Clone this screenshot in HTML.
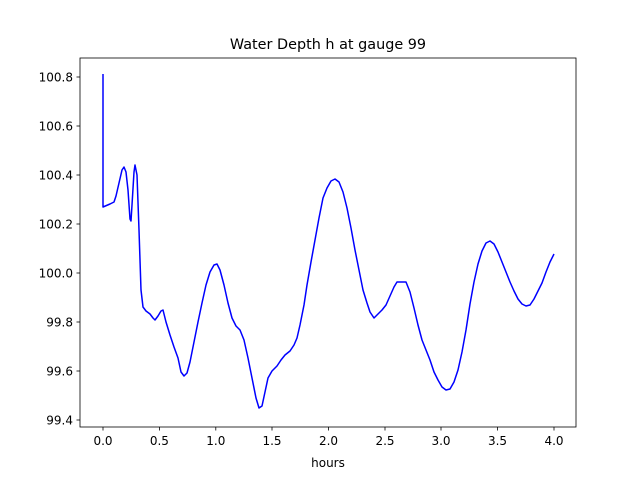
<!DOCTYPE html>
<html><head><meta charset="utf-8"><style>body{margin:0;background:#fff}svg{display:block}text{font-family:"DejaVu Sans","Liberation Sans",sans-serif;fill:#000}</style></head>
<body>
<svg width="640" height="480" viewBox="0 0 640 480" xmlns="http://www.w3.org/2000/svg">
<rect width="640" height="480" fill="#fff"/>
<text x="328" y="49" font-size="14.4" text-anchor="middle">Water Depth h at gauge 99</text>
<polyline fill="none" stroke="#0000ff" stroke-width="1.5" stroke-linejoin="round" points="103,74 103,207 110,204 114,202 116,196 119,183 122,170 124,167 126,172 128,190 130,219 131,221 132,205 134,172 135,165 137,175 139,230 141,290 143,307 146,311 150,314 153,318 155,320 158,316 161,311 163,310 166,322 170,335 174,347 178,358 181,372 184,376 187,373 190,362 194,342 198,322 202,303 206,285 210,272 214,265 217,264 220,270 224,285 228,303 232,318 236,326 240,330 244,340 248,358 252,378 256,398 259,408 262,406 265,392 268,378 272,371 277,366 281,360 285,355 290,351 294,345 297,338 300,325 304,305 307,285 311,262 315,240 319,218 323,198 327,188 331,181 335,179 339,182 343,192 347,208 351,228 355,250 359,270 363,290 367,303 370,312 374,318 378,314 382,310 386,305 390,296 394,287 397,282 401,282 406,282 410,292 414,308 418,325 422,340 426,350 430,360 434,372 438,380 442,387 446,390 450,389 454,382 458,370 462,352 466,330 470,304 474,282 478,264 482,251 486,243 490,241 494,244 498,252 502,262 506,272 510,282 514,291 518,299 522,304 526,306 530,305 534,299 538,291 542,283 546,272 550,262 554,254"/>
<rect x="80" y="58" width="496" height="369" fill="none" stroke="#000" stroke-width="0.8"/>
<g stroke="#000" stroke-width="0.8">
<line x1="103" y1="427" x2="103" y2="430.5"/><line x1="159.4" y1="427" x2="159.4" y2="430.5"/><line x1="215.8" y1="427" x2="215.8" y2="430.5"/><line x1="272" y1="427" x2="272" y2="430.5"/><line x1="328.5" y1="427" x2="328.5" y2="430.5"/><line x1="385" y1="427" x2="385" y2="430.5"/><line x1="441" y1="427" x2="441" y2="430.5"/><line x1="497.5" y1="427" x2="497.5" y2="430.5"/><line x1="554" y1="427" x2="554" y2="430.5"/>
<line x1="76.5" y1="420" x2="80" y2="420"/><line x1="76.5" y1="371" x2="80" y2="371"/><line x1="76.5" y1="322" x2="80" y2="322"/><line x1="76.5" y1="273" x2="80" y2="273"/><line x1="76.5" y1="224" x2="80" y2="224"/><line x1="76.5" y1="175" x2="80" y2="175"/><line x1="76.5" y1="126" x2="80" y2="126"/><line x1="76.5" y1="77" x2="80" y2="77"/>
</g>
<g font-size="12" text-anchor="middle">
<text x="103" y="445">0.0</text><text x="159.4" y="445">0.5</text><text x="215.8" y="445">1.0</text><text x="272" y="445">1.5</text><text x="328.5" y="445">2.0</text><text x="385" y="445">2.5</text><text x="441" y="445">3.0</text><text x="497.5" y="445">3.5</text><text x="554" y="445">4.0</text>
<text x="328" y="467">hours</text>
</g>
<g font-size="12" text-anchor="end">
<text x="73" y="424.5">99.4</text><text x="73" y="375.5">99.6</text><text x="73" y="326.5">99.8</text><text x="73" y="277.5">100.0</text><text x="73" y="228.5">100.2</text><text x="73" y="179.5">100.4</text><text x="73" y="130.5">100.6</text><text x="73" y="81.5">100.8</text>
</g>
</svg>
</body></html>
